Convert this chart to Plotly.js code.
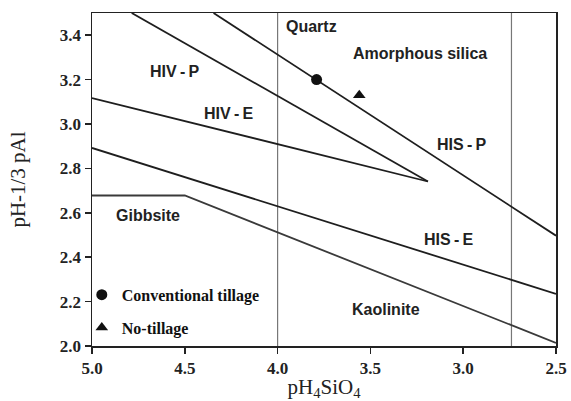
<!DOCTYPE html>
<html>
<head>
<meta charset="utf-8">
<script src="https://cdn.plot.ly/plotly-3.0.1.min.js"></script>
<style>html,body{margin:0;padding:0;background:#fff;}#chart{width:571px;height:401px;}</style>
</head>
<body>
<div id="chart"></div>
<script>
// Stability boundary lines (x = pH4SiO4, y = pH - 1/3 pAl)
const hisP_x = [4.345, 2.5];
const hisP_y = [3.5, 2.497];
const hivP_x = [4.786, 3.19];
const hivP_y = [3.5, 2.741];
const hivE_x = [5.0, 3.19];
const hivE_y = [3.117, 2.741];
const hisE_x = [5.0, 2.5];
const hisE_y = [2.892, 2.235];
const gibbKaol_x = [5.0, 4.5, 2.5];
const gibbKaol_y = [2.678, 2.678, 2.014];
// Silica saturation lines
const quartz_x = [4.0, 4.0];
const amorph_x = [2.74, 2.74];
const silica_y = [2.0, 3.5];
// Samples
const conv_x = [3.79];
const conv_y = [3.2];
const notill_x = [3.56];
const notill_y = [3.13];
// Region labels
const label_text = ['Quartz', 'Amorphous silica', 'HIV-P', 'HIV-E', 'HIS-P', 'HIS-E', 'Gibbsite', 'Kaolinite'];
const label_x = [3.816, 3.233, 4.553, 4.266, 3.008, 3.080, 4.697, 3.416];
const label_y = [3.439, 3.319, 3.236, 3.049, 2.906, 2.482, 2.587, 2.164];
const xTicks = [5.0, 4.5, 4.0, 3.5, 3.0, 2.5];
const yTicks = [2.0, 2.2, 2.4, 2.6, 2.8, 3.0, 3.2, 3.4];

const lineStyle = {color: '#1e1e1e', width: 1.8};
const grayStyle = {color: '#777777', width: 1.2};
function seg(x, y, style) {
  return {x: x, y: y, type: 'scatter', mode: 'lines', line: style, showlegend: false, hoverinfo: 'skip'};
}
const traces = [
  seg(quartz_x, silica_y, grayStyle),
  seg(amorph_x, silica_y, grayStyle),
  seg(hisP_x, hisP_y, lineStyle),
  seg(hivP_x, hivP_y, lineStyle),
  seg(hivE_x, hivE_y, lineStyle),
  seg(hisE_x, hisE_y, lineStyle),
  seg(gibbKaol_x, gibbKaol_y, {color: '#3a3a3a', width: 1.8}),
  {x: conv_x, y: conv_y, type: 'scatter', mode: 'markers', name: 'Conventional tillage',
   legendgroup: 'a', marker: {symbol: 'circle', size: 11, color: '#111111'}},
  {x: notill_x, y: notill_y, type: 'scatter', mode: 'markers', name: 'No-tillage',
   legendgroup: 'b', marker: {symbol: 'triangle-up', size: 11, color: '#111111'}}
];

// bold, slightly spaced dash as in the reference labels
function fmtLabel(t) { return t.replace('-', '\u2009<b>-</b>\u2009'); }
const annotations = label_text.map((t, i) => ({
  x: label_x[i], y: label_y[i], xref: 'x', yref: 'y', text: fmtLabel(t), showarrow: false,
  font: {family: 'Liberation Sans, Arial, sans-serif', size: 16, color: '#222222', weight: 'bold'}
}));

const layout = {
  width: 571, height: 401,
  margin: {l: 92, r: 15, t: 13, b: 55},
  paper_bgcolor: '#ffffff', plot_bgcolor: '#ffffff',
  showlegend: true,
  legend: {x: -0.022, y: 0.205, xanchor: 'left', yanchor: 'top', bgcolor: 'rgba(0,0,0,0)',
    itemwidth: 30, tracegroupgap: 9,
    font: {family: 'Liberation Serif, Times New Roman, serif', size: 16, color: '#111111', weight: 'bold'}},
  xaxis: {
    range: [5.0, 2.5], tickvals: xTicks, tickformat: '.1f',
    showgrid: false, zeroline: false,
    showline: true, linecolor: '#222222', linewidth: 1.5, mirror: true,
    ticks: 'outside', ticklen: 6, tickwidth: 1.5, tickcolor: '#222222',
    tickfont: {family: 'Liberation Serif, Times New Roman, serif', size: 17, color: '#222222', weight: 'bold'},
    title: {text: 'pH<sub>4</sub>SiO<sub>4</sub>', standoff: 8,
      font: {family: 'Liberation Serif, Times New Roman, serif', size: 21, color: '#222222'}}
  },
  yaxis: {
    range: [2.0, 3.5], tickvals: yTicks, tickformat: '.1f',
    showgrid: false, zeroline: false,
    showline: true, linecolor: '#222222', linewidth: 1.5, mirror: true,
    ticks: 'outside', ticklen: 6, tickwidth: 1.5, tickcolor: '#222222',
    tickfont: {family: 'Liberation Serif, Times New Roman, serif', size: 17, color: '#222222', weight: 'bold'},
    title: {text: 'pH-1/3 pAl', standoff: 28,
      font: {family: 'Liberation Serif, Times New Roman, serif', size: 21, color: '#222222'}}
  },
  annotations: annotations
};

Plotly.newPlot('chart', traces, layout, {displayModeBar: false, staticPlot: true});
</script>
</body>
</html>
